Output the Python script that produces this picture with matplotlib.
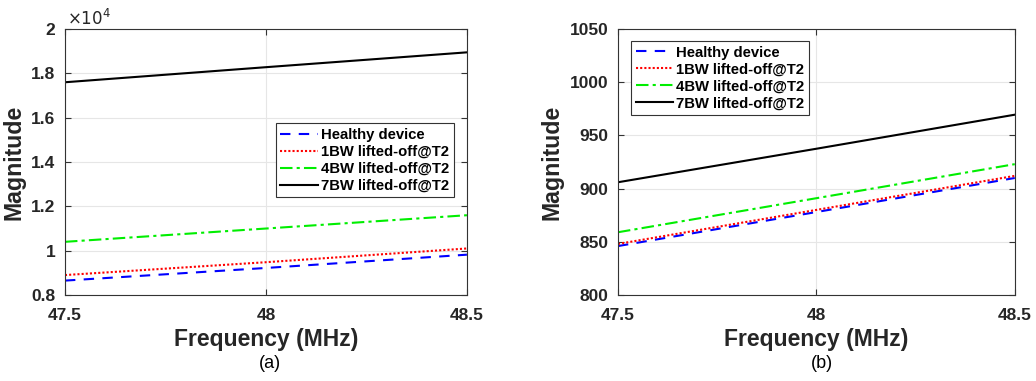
import numpy as np
import matplotlib.pyplot as plt
from matplotlib.ticker import FuncFormatter

plt.rcParams['font.family'] = ['Liberation Sans', 'DejaVu Sans']

freq = [47.5, 48.0, 48.5]
labels = ["Healthy device", "1BW lifted-off@T2", "4BW lifted-off@T2", "7BW lifted-off@T2"]

# panel (a), magnitude
mag_a_healthy = [8650, 9220, 9820]
mag_a_1bw = [8900, 9480, 10100]
mag_a_4bw = [10400, 11000, 11600]
mag_a_7bw = [17600, 18280, 18950]

# panel (b), magnitude
mag_b_healthy = [846, 878, 910]
mag_b_1bw = [848, 880, 912]
mag_b_4bw = [859, 891, 923]
mag_b_7bw = [906, 937.5, 969.5]

styles = [("#0000ff", (0, (5, 4))),
          ("#ff0000", (0, (1, 1))),
          ("#00ee00", (0, (6, 2, 1.5, 2))),
          ("#000000", "-")]


def draw_panel(ax, series, ylim, yticks, legend_pos):
    for y, lab, (c, ls) in zip(series, labels, styles):
        ax.plot(freq, y, color=c, linestyle=ls, linewidth=1.5, label=lab)
    ax.set_xlim(47.5, 48.5)
    ax.set_ylim(*ylim)
    ax.set_xticks([47.5, 48, 48.5])
    ax.set_xticklabels(["47.5", "48", "48.5"])
    ax.set_yticks(yticks)
    ax.grid(True, color="#e6e6e6", linewidth=0.8)
    ax.tick_params(direction="in", top=True, right=True, labelsize=12.5,
                   length=4, color="#333333")
    ax.tick_params(axis="x", pad=9)
    ax.tick_params(axis="y", pad=7)
    for lb in ax.get_xticklabels() + ax.get_yticklabels():
        lb.set_fontweight("bold")
        lb.set_color("#262626")
    for s in ax.spines.values():
        s.set_color("#333333")
        s.set_linewidth(0.8)
    ax.set_xlabel("Frequency (MHz)", fontsize=16.5, fontweight="bold", color="#262626", labelpad=4)
    ax.set_ylabel("Magnitude", fontsize=16.7, fontweight="bold", color="#262626", labelpad=4)
    leg = ax.legend(loc="upper left", bbox_to_anchor=legend_pos,
                    prop={"weight": "bold", "size": 10.75}, frameon=True, fancybox=False,
                    edgecolor="#333333", framealpha=1, handlelength=2.5, handletextpad=0.2,
                    borderpad=0.3, labelspacing=0.2, borderaxespad=0)
    leg.get_frame().set_linewidth(0.8)


fig = plt.figure(figsize=(10.36, 3.81), dpi=100)
ax1 = fig.add_axes([0.0627, 0.2257, 0.388, 0.698])
ax2 = fig.add_axes([0.5965, 0.2257, 0.383, 0.698])

draw_panel(ax1, [mag_a_healthy, mag_a_1bw, mag_a_4bw, mag_a_7bw],
           (8000, 20000), np.arange(8000, 20001, 2000), (0.525, 0.645))
ax1.yaxis.set_major_formatter(FuncFormatter(lambda v, p: f"{v / 1e4:g}"))
ax1.text(0.005, 1.005, r"$\times10^4$", transform=ax1.transAxes, fontsize=12,
         ha="left", va="bottom", color="#262626")

draw_panel(ax2, [mag_b_healthy, mag_b_1bw, mag_b_4bw, mag_b_7bw],
           (800, 1050), np.arange(800, 1051, 50), (0.033, 0.955))

fig.text(0.2606, 0.047, "(a)", fontsize=13, ha="center", va="center")
fig.text(0.7935, 0.047, "(b)", fontsize=13, ha="center", va="center")

fig.savefig("out.png", dpi=100)
